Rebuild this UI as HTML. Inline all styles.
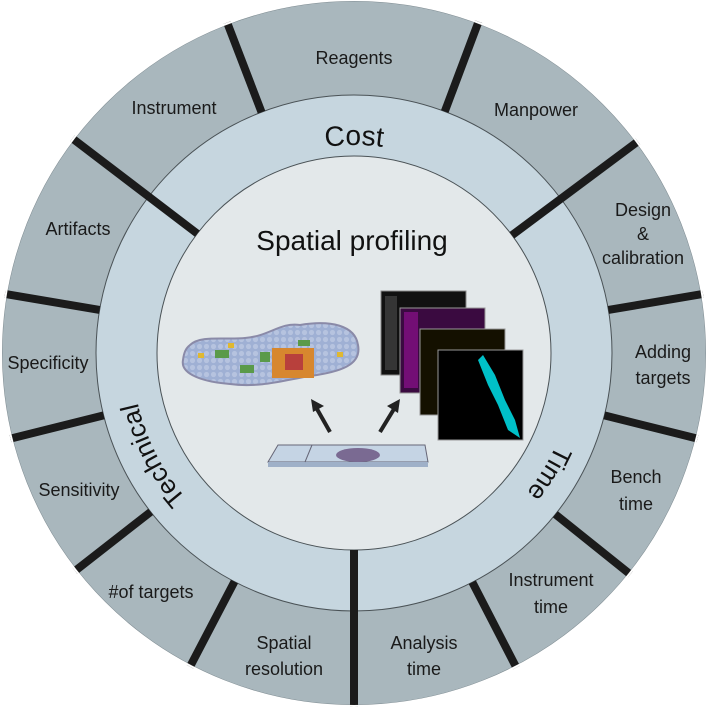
<!DOCTYPE html>
<html><head><meta charset="utf-8"><style>
html,body{margin:0;padding:0;background:#fff;}
svg{display:block;font-family:"Liberation Sans",sans-serif;}
</style></head><body>
<svg width="709" height="707" viewBox="0 0 709 707" xmlns="http://www.w3.org/2000/svg">
<defs>
<path id="c1" d="M146,353 A208,208 0 1,1 562,353 A208,208 0 1,1 146,353"/>
<path id="c2" d="M132,353 A222,222 0 1,1 576,353 A222,222 0 1,1 132,353"/>
<pattern id="grid" width="7" height="7" patternUnits="userSpaceOnUse"><rect width="7" height="7" fill="#9fb0d4"/><circle cx="3.5" cy="3.5" r="2.6" fill="#b6c3df"/></pattern>
</defs>
<circle cx="354" cy="353" r="352" fill="#a9b7bd" stroke="#7d8a90" stroke-width="1"/>
<circle cx="354" cy="353" r="258" fill="#c6d6df" stroke="#4a5256" stroke-width="1"/>
<circle cx="354" cy="353" r="197" fill="#e3e8ea" stroke="#4a5256" stroke-width="1"/>
<g stroke="#1b1b1b" stroke-width="8" id="div"></g>
<script>
var g=document.getElementById('div');
var a=[-111,-69.4,-36.7,-9.6,14,38.7,62.7,90,117.6,142,166,189.6,-142.7];
var full={"-36.7":1,"90":1,"-142.7":1};
a.forEach(function(d){var r=d*Math.PI/180,r0=full[String(d)]?197:258,r1=354;
var l=document.createElementNS('http://www.w3.org/2000/svg','line');
l.setAttribute('x1',354+r0*Math.cos(r));l.setAttribute('y1',353+r0*Math.sin(r));
l.setAttribute('x2',354+r1*Math.cos(r));l.setAttribute('y2',353+r1*Math.sin(r));g.appendChild(l);});
</script>
<circle cx="354" cy="353" r="353" fill="none" stroke="#fff" stroke-width="2"/>
<g font-size="18" fill="#1a1a1a" text-anchor="middle">
<text x="354" y="64">Reagents</text>
<text x="174" y="114">Instrument</text>
<text x="536" y="116">Manpower</text>
<text x="643" y="216">Design</text>
<text x="643" y="240">&amp;</text>
<text x="643" y="264">calibration</text>
<text x="663" y="358">Adding</text>
<text x="663" y="384">targets</text>
<text x="636" y="483">Bench</text>
<text x="636" y="510">time</text>
<text x="551" y="586">Instrument</text>
<text x="551" y="613">time</text>
<text x="424" y="649">Analysis</text>
<text x="424" y="675">time</text>
<text x="284" y="649">Spatial</text>
<text x="284" y="675">resolution</text>
<text x="151" y="598">#of targets</text>
<text x="79" y="496">Sensitivity</text>
<text x="48" y="369">Specificity</text>
<text x="78" y="235">Artifacts</text>
</g>
<g font-size="26" fill="#111" text-anchor="middle">
<text font-size="28"><textPath href="#c1" startOffset="326.7">Cost</textPath></text>
<text><textPath href="#c2" startOffset="1290">Technical</textPath></text>
<text><textPath href="#c2" startOffset="820">Time</textPath></text>
</g>
<text x="352" y="250" font-size="28" fill="#111" text-anchor="middle">Spatial profiling</text>
<!-- tissue -->
<path d="M190,345 C200,335 225,340 245,338 C270,336 280,322 300,325 C330,320 355,325 358,345 C362,365 340,372 310,376 C285,380 260,388 230,384 C205,382 180,375 183,360 C184,352 186,348 190,345Z" fill="url(#grid)" stroke="#8a8aa8" stroke-width="2"/>
<g fill="#d7872e"><rect x="272" y="348" width="42" height="30"/></g>
<g fill="#b8403c"><rect x="285" y="354" width="18" height="16"/></g>
<g fill="#5a9a4a"><rect x="215" y="350" width="14" height="8"/><rect x="240" y="365" width="14" height="8"/><rect x="260" y="352" width="10" height="10"/><rect x="298" y="340" width="12" height="6"/></g>
<g fill="#e0b830"><rect x="198" y="353" width="6" height="5"/><rect x="337" y="352" width="6" height="5"/><rect x="228" y="343" width="6" height="5"/></g>
<!-- image stack -->
<rect x="381" y="291" width="85" height="84" fill="#111" stroke="#888"/>
<rect x="400" y="308" width="85" height="85" fill="#3a0a40" stroke="#999"/>
<rect x="420" y="329" width="85" height="86" fill="#141000" stroke="#999"/>
<rect x="438" y="350" width="85" height="90" fill="#000" stroke="#999"/>
<g fill="#9a109a" opacity="0.6"><rect x="404" y="312" width="14" height="76"/></g>
<g fill="#5a5a5a" opacity="0.5"><rect x="385" y="296" width="12" height="74"/></g>
<g fill="#00c0c8"><path d="M483,355 L495,375 L505,400 L515,420 L520,438 L508,430 L498,405 L488,385 L478,360Z"/></g>
<!-- arrows -->
<g stroke="#222" stroke-width="4" fill="#222">
<line x1="330" y1="432" x2="317" y2="409"/>
<line x1="380" y1="432" x2="394" y2="409"/>
</g>
<polygon points="311,399 324,406 313,412" fill="#222"/>
<polygon points="400,399 398,413 387,406" fill="#222"/>
<!-- slide -->
<polygon points="278,445 425,445 428,462 268,462" fill="#c5d4e4" stroke="#667" stroke-width="1"/>
<polygon points="268,462 428,462 428,467 268,467" fill="#9fb0c8"/>
<line x1="312" y1="445" x2="305" y2="462" stroke="#667"/>
<ellipse cx="358" cy="455" rx="22" ry="7" fill="#7a6a92"/>
</svg>
</body></html>
